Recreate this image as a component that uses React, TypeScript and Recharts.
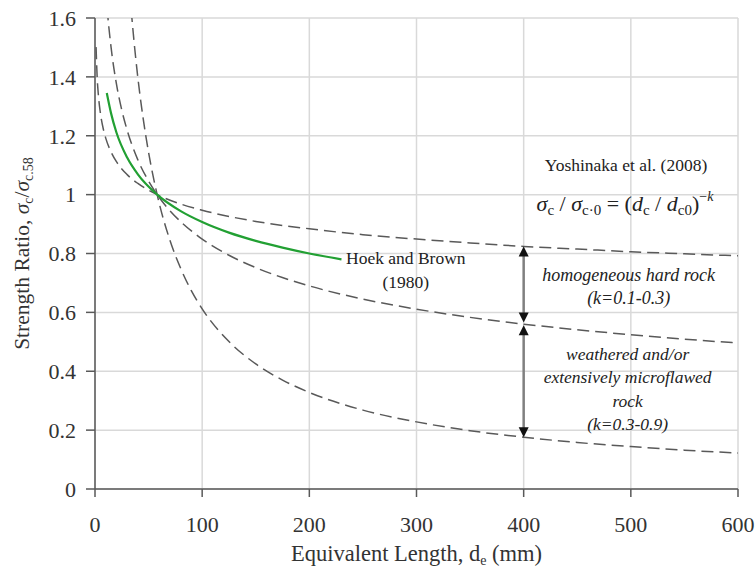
import { CartesianGrid, Line, LineChart, ReferenceDot, ReferenceLine, XAxis, YAxis } from 'recharts'

// Yoshinaka et al. (2008) curves
const kLowD = [1, 2, 3, 5, 8, 10, 15, 20, 30, 40, 58, 80, 100, 150, 200, 250, 300, 350, 400, 450, 500, 550, 600]
const kLowR = [1.501, 1.4, 1.345, 1.278, 1.219, 1.192, 1.145, 1.112, 1.068, 1.038, 1, 0.968, 0.947, 0.909, 0.884, 0.864, 0.849, 0.836, 0.824, 0.815, 0.806, 0.799, 0.792]

const kMidD = [10, 12, 15, 20, 25, 30, 40, 50, 58, 70, 80, 100, 125, 150, 200, 250, 300, 350, 400, 450, 500, 550, 600]
const kMidR = [1.694, 1.604, 1.5, 1.376, 1.287, 1.219, 1.118, 1.046, 1, 0.945, 0.908, 0.849, 0.794, 0.752, 0.69, 0.645, 0.611, 0.583, 0.56, 0.541, 0.524, 0.509, 0.496]

const kHighD = [30, 33, 35, 40, 45, 50, 58, 70, 80, 90, 100, 125, 150, 175, 200, 250, 300, 350, 400, 450, 500, 550, 600]
const kHighR = [1.81, 1.661, 1.576, 1.397, 1.257, 1.143, 1, 0.844, 0.749, 0.673, 0.612, 0.501, 0.425, 0.37, 0.328, 0.268, 0.228, 0.198, 0.176, 0.158, 0.144, 0.132, 0.122]

// Hoek and Brown (1980)
const hoekD = [11, 15, 20, 30, 40, 58, 80, 100, 125, 150, 175, 200, 230]
const hoekR = [1.345, 1.276, 1.211, 1.126, 1.069, 1, 0.944, 0.907, 0.871, 0.843, 0.82, 0.8, 0.78]

const xTicks = [0, 100, 200, 300, 400, 500, 600]
const yTicks = [0, 0.2, 0.4, 0.6, 0.8, 1, 1.2, 1.4, 1.6]

// range arrows at d = 400
const arrowX = 400
const hardRange = [0.824, 0.566]
const weatheredRange = [0.556, 0.176]

const FONT = 'Liberation Serif, DejaVu Serif, serif'
const GRID = '#d9d9d9'
const AXIS = '#595959'
const DASH = '#595959'
const GREEN = '#22a033'

type Row = { d: number; kLow?: number; kMid?: number; kHigh?: number; hoek?: number }

function buildRows(): Row[] {
  const map = new Map<number, Row>()
  const add = (ds: number[], rs: number[], key: keyof Omit<Row, 'd'>) => {
    ds.forEach((d, i) => {
      const row = map.get(d) ?? { d }
      row[key] = rs[i]
      map.set(d, row)
    })
  }
  add(kLowD, kLowR, 'kLow')
  add(kMidD, kMidR, 'kMid')
  add(kHighD, kHighR, 'kHigh')
  add(hoekD, hoekR, 'hoek')
  return [...map.values()].sort((a, b) => a.d - b.d)
}

const rows = buildRows()

function RangeArrow(p: any) {
  const { x1, y1, y2 } = p
  const top = Math.min(y1, y2)
  const bot = Math.max(y1, y2)
  return (
    <g>
      <line x1={x1} y1={top + 8} x2={x1} y2={bot - 8} stroke="#808080" strokeWidth={2.5} />
      <polygon points={`${x1},${top} ${x1 - 5},${top + 10} ${x1 + 5},${top + 10}`} fill="#111" />
      <polygon points={`${x1},${bot} ${x1 - 5},${bot - 10} ${x1 + 5},${bot - 10}`} fill="#111" />
    </g>
  )
}

// one text block anchored on a data point; lines stacked downward
function textBlock(lines: string[], italic: boolean, size = 17.5, step = 23.5) {
  return (props: any) => {
    const vb = props.viewBox
    const cx = vb.x + vb.width / 2
    const cy = vb.y + vb.height / 2
    return (
      <text x={cx} y={cy} textAnchor="middle" style={{ fontFamily: FONT }} fontSize={size} fontStyle={italic ? 'italic' : 'normal'} fill="#222">
        {lines.map((l, i) => (
          <tspan key={i} x={cx} dy={i === 0 ? 0 : step}>
            {l}
          </tspan>
        ))}
      </text>
    )
  }
}

function Formula(props: any) {
  const vb = props.viewBox
  const cx = vb.x + vb.width / 2
  const cy = vb.y + vb.height / 2
  return (
    <text x={cx} y={cy} textAnchor="middle" style={{ fontFamily: FONT }} fontSize={22} fill="#222">
      <tspan fontStyle="italic">σ</tspan>
      <tspan fontSize={15} dy={4}>c</tspan>
      <tspan dy={-4}> / </tspan>
      <tspan fontStyle="italic">σ</tspan>
      <tspan fontSize={15} dy={4}>c·0</tspan>
      <tspan dy={-4}> = (</tspan>
      <tspan fontStyle="italic">d</tspan>
      <tspan fontSize={15} dy={4}>c</tspan>
      <tspan dy={-4}> / </tspan>
      <tspan fontStyle="italic">d</tspan>
      <tspan fontSize={15} dy={4}>c0</tspan>
      <tspan dy={-4}>)</tspan>
      <tspan fontSize={14} dy={-10}>−</tspan>
      <tspan fontSize={14} fontStyle="italic">k</tspan>
    </text>
  )
}

function YTitle(props: any) {
  const vb = props.viewBox
  const cy = vb.y + vb.height / 2
  const x = 29
  return (
    <text x={x} y={cy} transform={`rotate(-90 ${x} ${cy})`} textAnchor="middle" style={{ fontFamily: FONT }} fontSize={21.5} fill="#333">
      <tspan>Strength Ratio, </tspan>
      <tspan fontStyle="italic">σ</tspan>
      <tspan fontSize={14} dy={4}>c</tspan>
      <tspan dy={-4}>/</tspan>
      <tspan fontStyle="italic">σ</tspan>
      <tspan fontSize={14} dy={4}>c.58</tspan>
    </text>
  )
}

function XTitle(props: any) {
  const vb = props.viewBox
  const cx = vb.x + vb.width / 2
  return (
    <text x={cx} y={561} textAnchor="middle" style={{ fontFamily: FONT }} fontSize={22.5} fill="#333">
      <tspan>Equivalent Length, d</tspan>
      <tspan fontSize={14} dy={4}>e</tspan>
      <tspan dy={-4}> (mm)</tspan>
    </text>
  )
}

const tickStyle = { fontSize: 22, fill: '#333', style: { fontFamily: FONT } }

export default function App() {
  return (
    <div style={{ position: 'absolute', left: 0, top: 0, background: '#fff', fontFamily: FONT }}>
      <LineChart width={756} height={568} data={rows} margin={{ top: 18, right: 18, bottom: 0, left: 0 }} style={{ fontFamily: FONT }}>
        <CartesianGrid stroke={GRID} strokeWidth={1.5} />
        <XAxis
          dataKey="d"
          type="number"
          domain={[0, 600]}
          ticks={xTicks}
          height={79}
          tickSize={8}
          tickMargin={19}
          tick={tickStyle}
          stroke={AXIS}
          strokeWidth={1.5}
          label={{ content: XTitle }}
        />
        <YAxis
          type="number"
          domain={[0, 1.6]}
          ticks={yTicks}
          allowDataOverflow
          width={95}
          tickSize={9}
          tickMargin={10}
          tick={tickStyle}
          stroke={AXIS}
          strokeWidth={1.5}
          label={{ content: YTitle }}
        />
        <Line dataKey="kLow" type="monotone" stroke={DASH} strokeWidth={1.5} strokeDasharray="12 6" dot={false} connectNulls isAnimationActive={false} />
        <Line dataKey="kMid" type="monotone" stroke={DASH} strokeWidth={1.5} strokeDasharray="12 6" dot={false} connectNulls isAnimationActive={false} />
        <Line dataKey="kHigh" type="monotone" stroke={DASH} strokeWidth={1.5} strokeDasharray="12 6" dot={false} connectNulls isAnimationActive={false} />
        <Line dataKey="hoek" type="monotone" stroke={GREEN} strokeWidth={2.2} dot={false} connectNulls isAnimationActive={false} />

        <ReferenceLine segment={[{ x: arrowX, y: hardRange[0] }, { x: arrowX, y: hardRange[1] }]} shape={RangeArrow} />
        <ReferenceLine segment={[{ x: arrowX, y: weatheredRange[0] }, { x: arrowX, y: weatheredRange[1] }]} shape={RangeArrow} />

        <ReferenceDot x={495.5} y={1.079} r={1} fill="none" stroke="none" label={{ content: textBlock(['Yoshinaka et al. (2008)'], false) }} />
        <ReferenceDot x={494.5} y={0.943} r={1} fill="none" stroke="none" label={{ content: Formula }} />
        <ReferenceDot x={290} y={0.766} r={1} fill="none" stroke="none" label={{ content: textBlock(['Hoek and Brown', '(1980)'], false, 17.5, 24) }} />
        <ReferenceDot x={498} y={0.705} r={1} fill="none" stroke="none" label={{ content: textBlock(['homogeneous hard rock', '(k=0.1-0.3)'], true, 18, 23) }} />
        <ReferenceDot
          x={497}
          y={0.439}
          r={1}
          fill="none"
          stroke="none"
          label={{ content: textBlock(['weathered and/or', 'extensively microflawed', 'rock', '(k=0.3-0.9)'], true, 17.5, 23.5) }}
        />
      </LineChart>
    </div>
  )
}
